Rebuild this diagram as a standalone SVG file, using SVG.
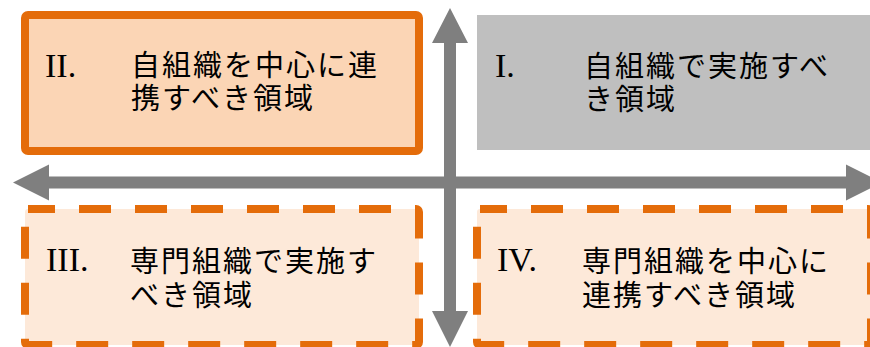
<svg xmlns="http://www.w3.org/2000/svg" width="870" height="347" viewBox="0 0 870 347">
<style>
.jp{font-family:"Noto Sans CJK JP","Noto Sans",sans-serif;font-size:29px;letter-spacing:2px;fill:#000}
.num{font-family:"Liberation Serif",serif;font-size:34px;fill:#000}
.arrow{fill:#7F7F7F}
.dash{fill:#FDE9D9;stroke:#E46C0A;stroke-width:8;stroke-dasharray:32 24;stroke-dashoffset:5}
</style>
<rect width="870" height="347" fill="#FFFFFF"/>
<g id="connectors">
<polygon class="arrow" points="13,182.5 49,164.5 49,176.5 846,176.5 846,164.5 882,182.5 846,200.5 846,188.5 49,188.5 49,200.5"/>
<polygon class="arrow" points="450,8 468,43 456,43 456,311 468,311 450,347 432,311 444,311 444,43 432,43"/>
</g>
<g id="node-II">
<rect x="25" y="15" width="394" height="136" rx="3" fill="#FBD5B5" stroke="#E46C0A" stroke-width="8"/>
<text class="num" x="45" y="77">II.</text>
<text class="jp"><tspan x="131" y="76">自組織を中心に連</tspan><tspan x="131" y="109">携すべき領域</tspan></text>
</g>
<g id="node-I">
<rect x="477" y="15" width="394" height="135" fill="#BFBFBF"/>
<text class="num" x="495" y="77">I.</text>
<text class="jp"><tspan x="584" y="77">自組織で実施すべ</tspan><tspan x="584" y="110">き領域</tspan></text>
</g>
<g id="node-III">
<rect class="dash" x="25" y="209" width="394" height="136" rx="3"/>
<text class="num" x="46" y="271">III.</text>
<text class="jp"><tspan x="130" y="272">専門組織で実施す</tspan><tspan x="130" y="306">べき領域</tspan></text>
</g>
<g id="node-IV">
<rect class="dash" x="477" y="209" width="394" height="136" rx="3"/>
<text class="num" x="497" y="271">IV.</text>
<text class="jp"><tspan x="582" y="272">専門組織を中心に</tspan><tspan x="582" y="306">連携すべき領域</tspan></text>
</g>
</svg>
